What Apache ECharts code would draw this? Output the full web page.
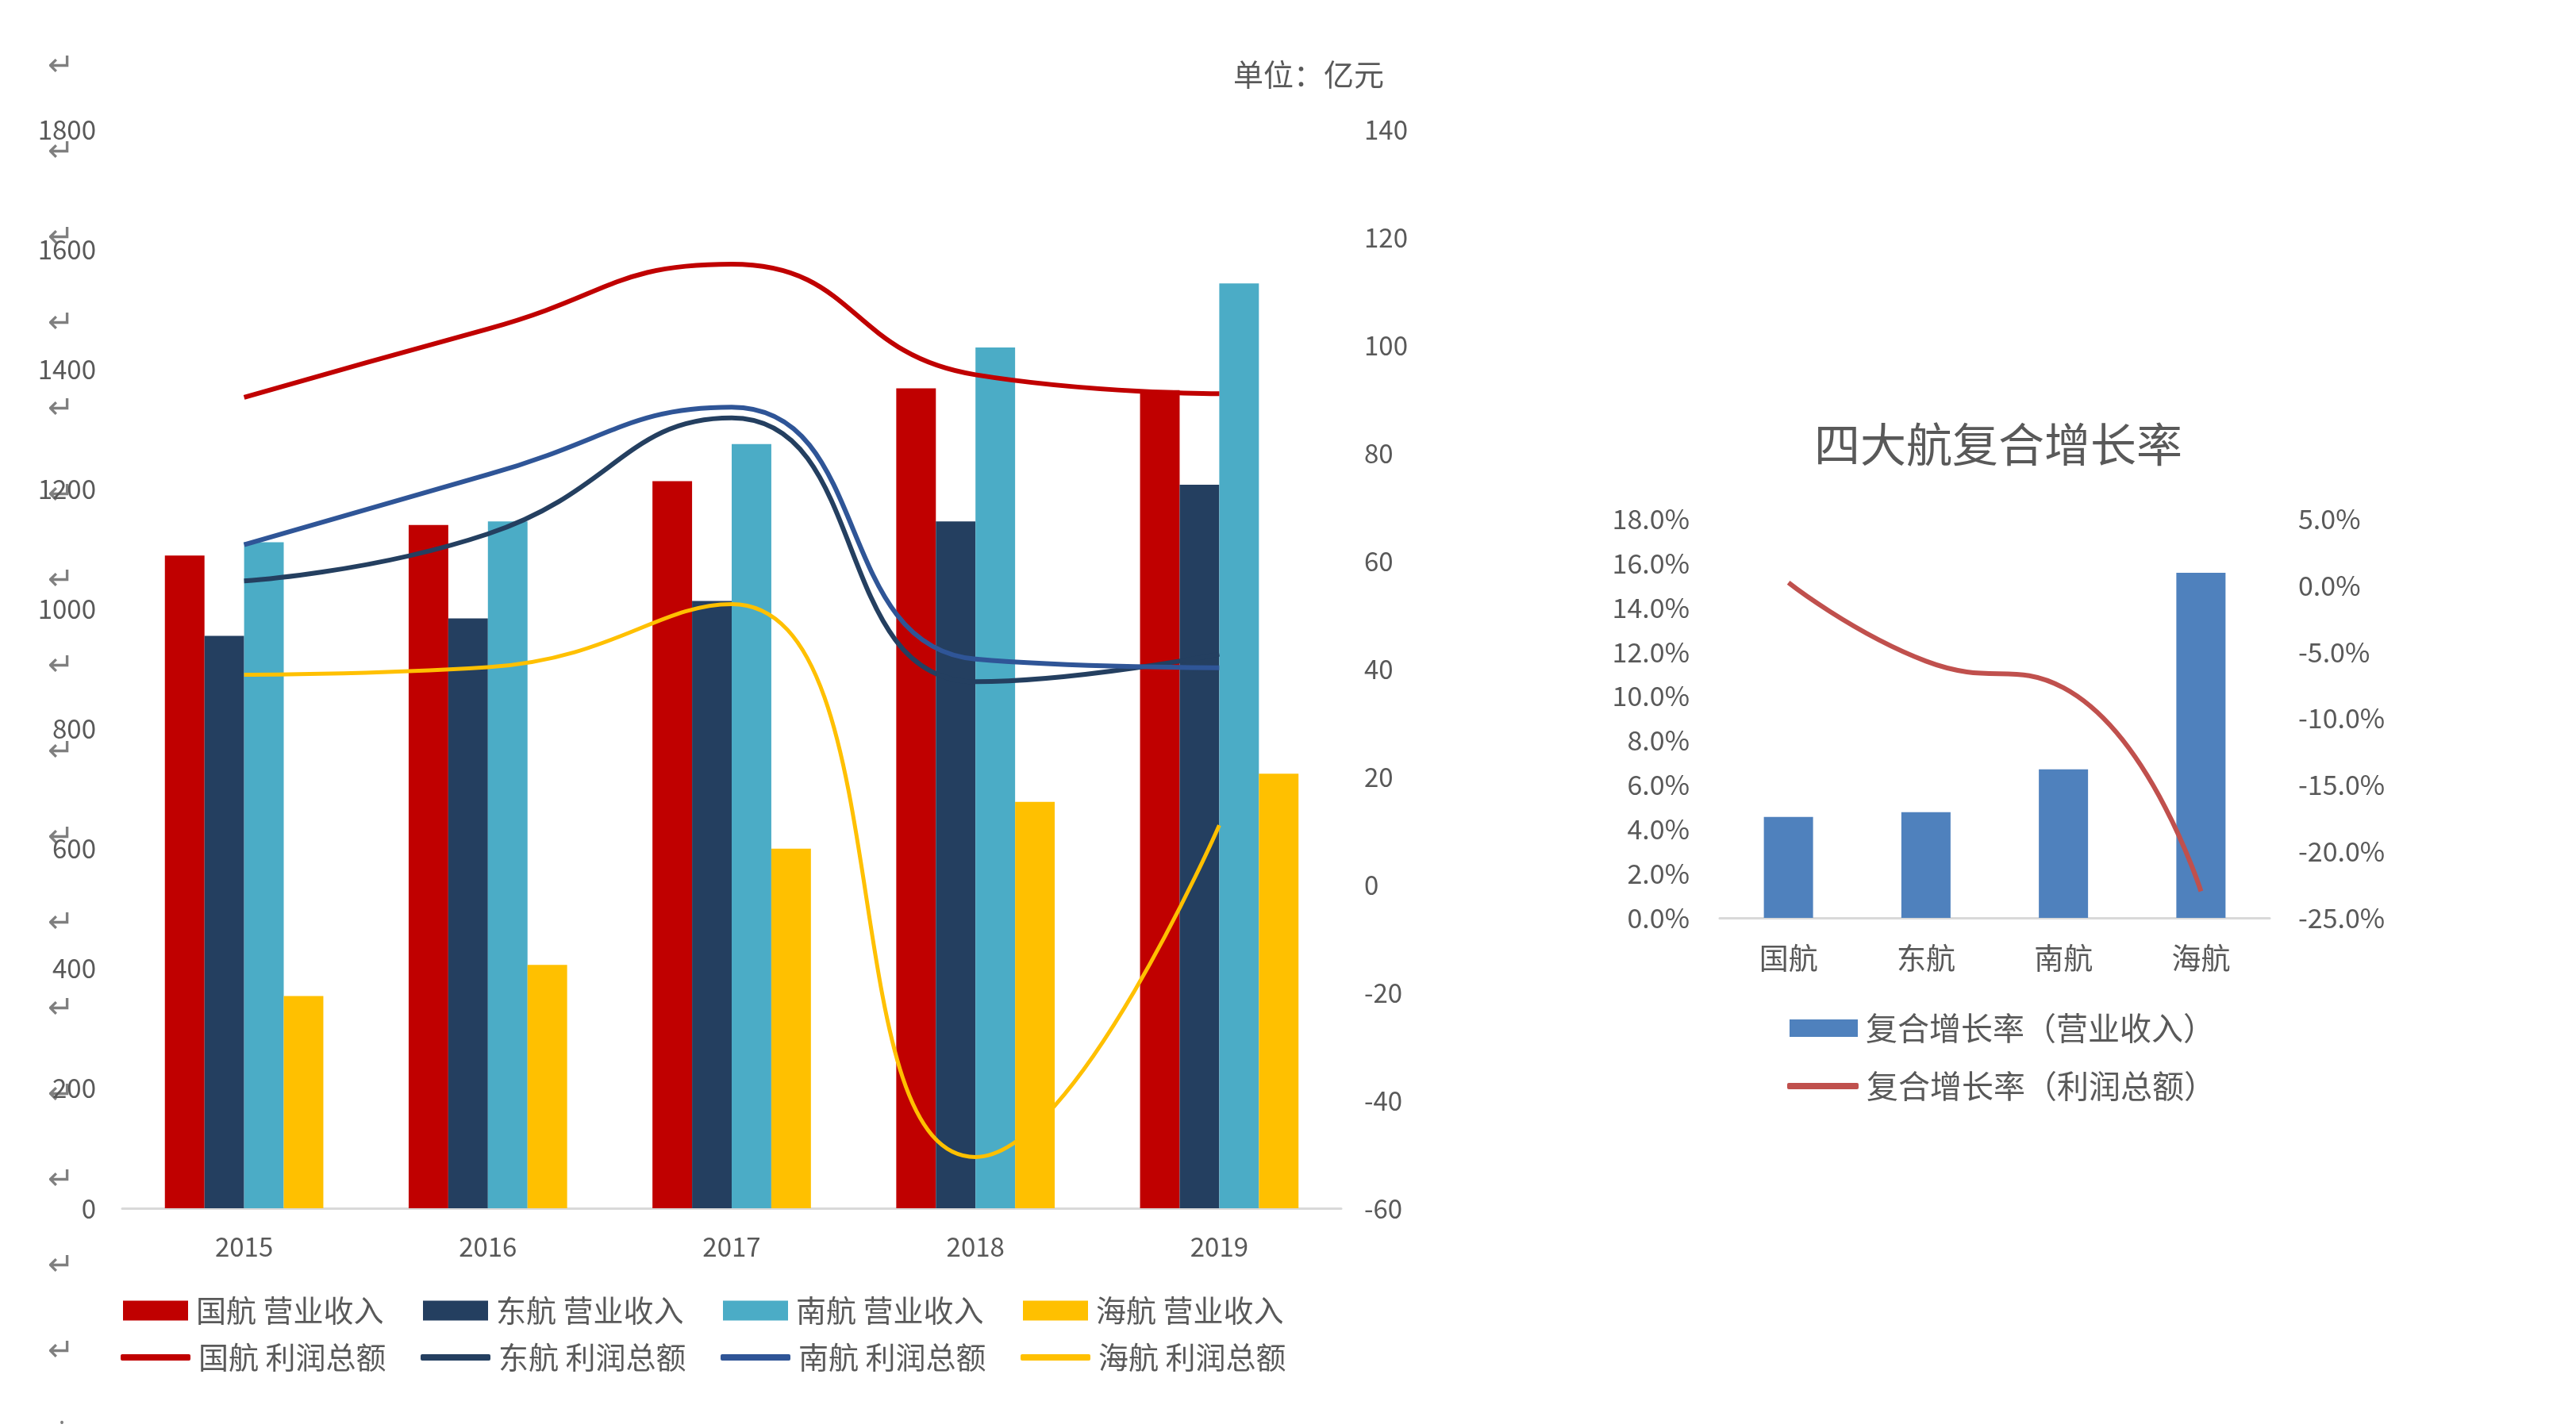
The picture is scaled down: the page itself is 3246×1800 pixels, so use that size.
<!DOCTYPE html>
<html>
<head>
<meta charset="utf-8">
<script src="https://cdn.jsdelivr.net/npm/echarts@6/dist/echarts.min.js"></script>
<style>html,body{margin:0;padding:0;background:#fff;}#c{width:3246px;height:1800px;}</style>
</head>
<body>
<div id="c"></div>
<script>
// ---- data ----
const years = ['2015', '2016', '2017', '2018', '2019'];
const revGH = [1089, 1140, 1213, 1368, 1365];
const revDH = [955, 984, 1013, 1146, 1207];
const revNH = [1111, 1146, 1275, 1436, 1543];
const revHH = [354, 406, 600, 678, 725];
const profitGH = [90.3, 103, 115, 94.5, 91];
const profitDH = [56.3, 65, 86.5, 37.6, 42.7];
const profitNH = [63, 76, 88.5, 41.8, 40.2];
const profitHH = [38.9, 40.3, 52, -50.5, 11];
const leftTicks = { min: 0, max: 1800, interval: 200 };
const rightTicks = { min: -60, max: 140, interval: 20 };

const airlines = ['国航', '东航', '南航', '海航'];
const cagrRevenue = [4.55, 4.77, 6.7, 15.57];
const cagrProfit = [0.2, -5.7, -7.7, -23];
const cagrLeftTicks = { min: 0, max: 18, interval: 2 };
const cagrRightTicks = { min: -25, max: 5, interval: 5 };

const barNames = ['国航 营业收入', '东航 营业收入', '南航 营业收入', '海航 营业收入'];
const lineNames = ['国航 利润总额', '东航 利润总额', '南航 利润总额', '海航 利润总额'];
const cagrNames = ['复合增长率（营业收入）', '复合增长率（利润总额）'];

// ---- style ----
const FONT = "'Noto Sans CJK SC', 'Noto Sans', sans-serif";
const GRAY = '#595959';
const C_RED = '#C00000', C_NAVY = '#243F60', C_CYAN = '#4BACC6', C_YEL = '#FFC000', C_BLUE = '#2F5597';
const barColors = [C_RED, C_NAVY, C_CYAN, C_YEL];
const lineColors = [C_RED, C_NAVY, C_BLUE, C_YEL];

const chart = echarts.init(document.getElementById('c'), null, { renderer: 'canvas', devicePixelRatio: 1 });

const revs = [revGH, revDH, revNH, revHH];
const profits = [profitGH, profitDH, profitNH, profitHH];

const series = [];
revs.forEach((d, i) => series.push({
  name: barNames[i], type: 'bar', xAxisIndex: 0, yAxisIndex: 0, data: d,
  barGap: '0%', barCategoryGap: '35%', itemStyle: { color: barColors[i] }, z: 2
}));
profits.forEach((d, i) => series.push({
  name: lineNames[i], type: 'line', xAxisIndex: 0, yAxisIndex: 1, data: d,
  smooth: 0.5, symbol: 'none', lineStyle: { color: lineColors[i], width: i === 3 ? 5 : 6 },
  itemStyle: { color: lineColors[i] }, z: 5
}));
series.push({
  name: cagrNames[0], type: 'bar', xAxisIndex: 1, yAxisIndex: 2, data: cagrRevenue,
  barWidth: 62, itemStyle: { color: '#4F81BD' }
});
series.push({
  name: cagrNames[1], type: 'line', xAxisIndex: 1, yAxisIndex: 3, data: cagrProfit,
  smooth: 0.5, symbol: 'none', lineStyle: { color: '#C0504D', width: 6 }, itemStyle: { color: '#C0504D' }, z: 5
});

// paragraph marks along the left margin
const marks = [];
for (let i = 0; i < 16; i++) {
  marks.push({ type: 'text', x: 77, y: 80 + i * 108,
    style: { text: '↵', font: "40px 'Noto Sans CJK SC'", fill: '#7F7F7F', textAlign: 'center', textVerticalAlign: 'middle' } });
}
marks.push({ type: 'text', x: 78, y: 1786, style: { text: '.', font: "30px 'Noto Sans'", fill: '#7F7F7F', textAlign: 'center', textVerticalAlign: 'middle' } });

const axisLabelStyle = { color: GRAY, fontFamily: FONT };
const legendText = { color: GRAY, fontSize: 38, fontFamily: FONT, width: 242, lineHeight: 40, padding: [0, 0, 0, 5] };

const option = {
  backgroundColor: '#fff',
  animation: false,
  grid: [
    { left: 154, right: 3246 - 1690, top: 163, bottom: 1800 - 1523 },
    { left: 2167, right: 3246 - 2860, top: 654, bottom: 1800 - 1157 }
  ],
  xAxis: [
    { type: 'category', gridIndex: 0, data: years,
      axisLine: { lineStyle: { color: '#D9D9D9', width: 3 } }, axisTick: { show: false },
      axisLabel: Object.assign({ fontSize: 33, margin: 32 }, axisLabelStyle) },
    { type: 'category', gridIndex: 1, data: airlines,
      axisLine: { lineStyle: { color: '#D9D9D9', width: 3 } }, axisTick: { show: false },
      axisLabel: Object.assign({ fontSize: 37, margin: 32 }, axisLabelStyle) }
  ],
  yAxis: [
    { type: 'value', gridIndex: 0, min: leftTicks.min, max: leftTicks.max, interval: leftTicks.interval,
      splitLine: { show: false }, axisLine: { show: false }, axisTick: { show: false },
      axisLabel: Object.assign({ fontSize: 33, margin: 33, formatter: v => String(v) }, axisLabelStyle) },
    { type: 'value', gridIndex: 0, position: 'right', min: rightTicks.min, max: rightTicks.max, interval: rightTicks.interval,
      splitLine: { show: false }, axisLine: { show: false }, axisTick: { show: false },
      axisLabel: Object.assign({ fontSize: 33, margin: 29, formatter: v => String(v) }, axisLabelStyle) },
    { type: 'value', gridIndex: 1, min: cagrLeftTicks.min, max: cagrLeftTicks.max, interval: cagrLeftTicks.interval,
      splitLine: { show: false }, axisLine: { show: false }, axisTick: { show: false },
      axisLabel: Object.assign({ fontSize: 34, margin: 38, formatter: v => v.toFixed(1) + '%' }, axisLabelStyle) },
    { type: 'value', gridIndex: 1, position: 'right', min: cagrRightTicks.min, max: cagrRightTicks.max, interval: cagrRightTicks.interval,
      splitLine: { show: false }, axisLine: { show: false }, axisTick: { show: false },
      axisLabel: Object.assign({ fontSize: 34, margin: 36, formatter: v => v.toFixed(1) + '%' }, axisLabelStyle) }
  ],
  legend: [
    { data: barNames.map(n => ({ name: n, icon: 'rect' })), left: 155, top: 1632, orient: 'horizontal',
      itemWidth: 82, itemHeight: 25, itemGap: 44, padding: 0, selectedMode: false, textStyle: legendText },
    { data: lineNames.map(n => ({ name: n, icon: 'roundRect' })), left: 152, top: 1691, orient: 'horizontal',
      itemWidth: 88, itemHeight: 8, itemGap: 38, padding: 0, selectedMode: false, textStyle: legendText },
    { data: [{ name: cagrNames[0], icon: 'rect' }], left: 2255, top: 1276, orient: 'horizontal',
      itemWidth: 86, itemHeight: 22, padding: 0, selectedMode: false,
      textStyle: { color: GRAY, fontSize: 40, fontFamily: FONT, lineHeight: 40, padding: [0, 0, 0, 5] } },
    { data: [{ name: cagrNames[1], icon: 'roundRect' }], left: 2252, top: 1349, orient: 'horizontal',
      itemWidth: 90, itemHeight: 8, padding: 0, selectedMode: false,
      textStyle: { color: GRAY, fontSize: 40, fontFamily: FONT, lineHeight: 40, padding: [0, 0, 0, 5] } }
  ],
  graphic: [
    { type: 'text', x: 1744, y: 94,
      style: { text: '单位：亿元', font: "38px 'Noto Sans CJK SC'", fill: GRAY, textAlign: 'right', textVerticalAlign: 'middle' } },
    { type: 'text', x: 2518, y: 560,
      style: { text: '四大航复合增长率', font: "58px 'Noto Sans CJK SC'", fill: GRAY, textAlign: 'center', textVerticalAlign: 'middle' } }
  ].concat(marks),
  series: series
};
chart.setOption(option);
</script>
</body>
</html>
